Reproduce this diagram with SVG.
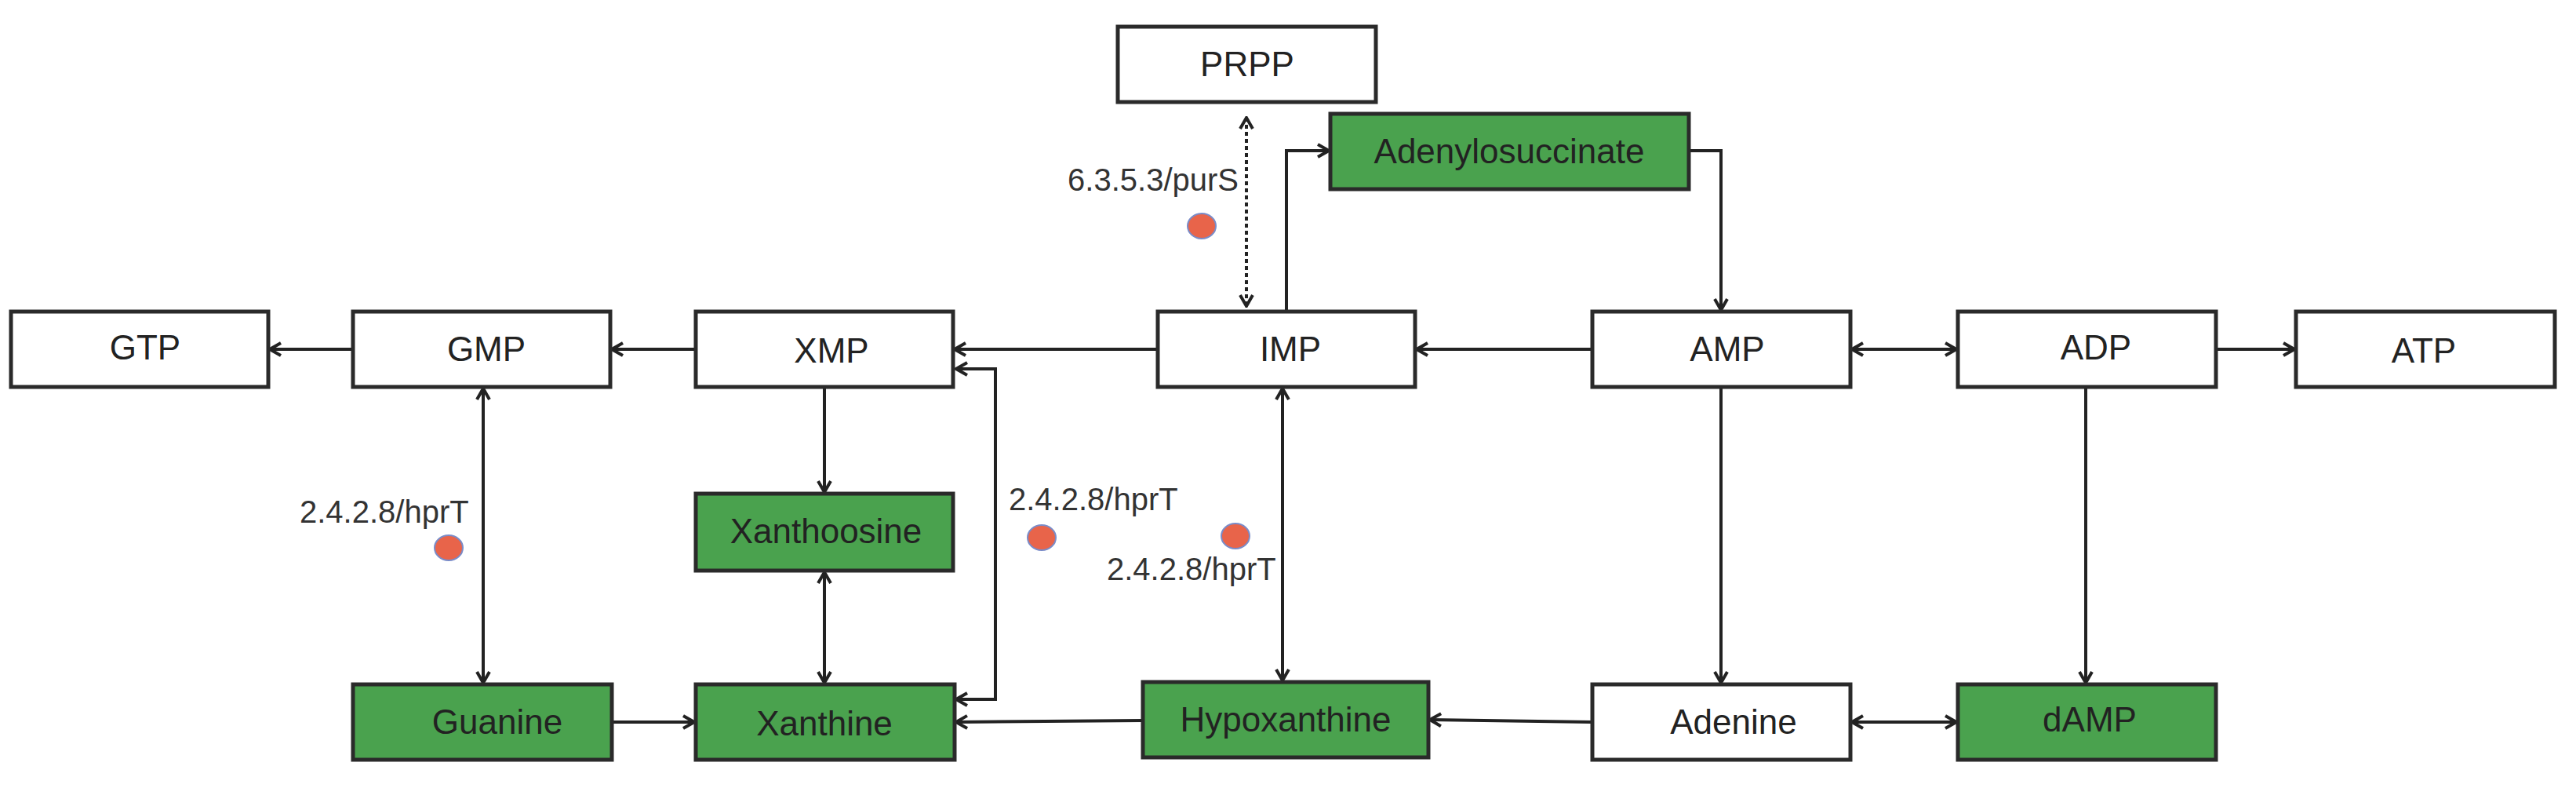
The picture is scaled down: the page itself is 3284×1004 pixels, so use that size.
<svg xmlns="http://www.w3.org/2000/svg" width="3284" height="1004" viewBox="0 0 3284 1004">
<style>
.n{fill:#fff;stroke:#2a2a2a;stroke-width:5}
.g{fill:#4aa24e;stroke:#2a2a2a;stroke-width:5}
.t{font-family:"Liberation Sans",Arial,sans-serif;font-size:44px;fill:#222;text-anchor:middle}
.l{font-family:"Liberation Sans",Arial,sans-serif;font-size:40px;fill:#333}
.c{fill:none;stroke:#222;stroke-width:4}
.d{stroke-dasharray:5 4}
.e{fill:#e8644a;stroke:#7a8cc8;stroke-width:2}
</style>
<defs>
<marker id="a" viewBox="0 0 20 20" refX="18" refY="10" markerWidth="20" markerHeight="20" markerUnits="userSpaceOnUse" orient="auto-start-reverse">
<path d="M4,2 L18,10 L4,18" fill="none" stroke="#222" stroke-width="4"/>
</marker>
</defs>
<g id="connectors">
<line class="c" x1="450" y1="445" x2="344" y2="445" marker-end="url(#a)"/>
<line class="c" x1="887" y1="445" x2="780" y2="445" marker-end="url(#a)"/>
<line class="c" x1="1476" y1="445" x2="1217" y2="445" marker-end="url(#a)"/>
<polyline class="c" points="1219,470 1269,470 1269,891 1219,891" marker-start="url(#a)" marker-end="url(#a)"/>
<line class="c" x1="616" y1="495" x2="616" y2="870" marker-start="url(#a)" marker-end="url(#a)"/>
<line class="c" x1="1051" y1="493" x2="1051" y2="627" marker-end="url(#a)"/>
<line class="c" x1="1051" y1="729" x2="1051" y2="870" marker-start="url(#a)" marker-end="url(#a)"/>
<line class="c" x1="780" y1="920" x2="885" y2="920" marker-end="url(#a)"/>
<line class="c" x1="1457" y1="918" x2="1219" y2="920" marker-end="url(#a)"/>
<line class="c" x1="2030" y1="920" x2="1823" y2="917" marker-end="url(#a)"/>
<line class="c" x1="2361" y1="920" x2="2494" y2="920" marker-start="url(#a)" marker-end="url(#a)"/>
<line class="c" x1="2030" y1="445" x2="1806" y2="445" marker-end="url(#a)"/>
<line class="c" x1="2361" y1="445" x2="2494" y2="445" marker-start="url(#a)" marker-end="url(#a)"/>
<line class="c" x1="2825" y1="445" x2="2925" y2="445" marker-end="url(#a)"/>
<polyline class="c" points="2153,192 2194,192 2194,395" marker-end="url(#a)"/>
<polyline class="c" points="1640,397 1640,192 1694,192" marker-end="url(#a)"/>
<line class="c d" x1="1589" y1="150" x2="1589" y2="390" marker-start="url(#a)" marker-end="url(#a)"/>
<line class="c" x1="1635" y1="495" x2="1635" y2="867" marker-start="url(#a)" marker-end="url(#a)"/>
<line class="c" x1="2194" y1="493" x2="2194" y2="870" marker-end="url(#a)"/>
<line class="c" x1="2659" y1="493" x2="2659" y2="870" marker-end="url(#a)"/>
</g>
<g id="PRPP"><rect class="n" x="1425" y="34" width="329" height="96"/><text class="t" x="1590" y="97">PRPP</text></g>
<g id="Adenylosuccinate"><rect class="g" x="1696" y="145" width="457" height="96"/><text class="t" x="1924" y="208">Adenylosuccinate</text></g>
<g id="GTP"><rect class="n" x="14" y="397" width="328" height="96"/><text class="t" x="185" y="458">GTP</text></g>
<g id="GMP"><rect class="n" x="450" y="397" width="328" height="96"/><text class="t" x="620" y="460">GMP</text></g>
<g id="XMP"><rect class="n" x="887" y="397" width="328" height="96"/><text class="t" x="1060" y="462">XMP</text></g>
<g id="IMP"><rect class="n" x="1476" y="397" width="328" height="96"/><text class="t" x="1645" y="460">IMP</text></g>
<g id="AMP"><rect class="n" x="2030" y="397" width="329" height="96"/><text class="t" x="2202" y="460">AMP</text></g>
<g id="ADP"><rect class="n" x="2496" y="397" width="329" height="96"/><text class="t" x="2672" y="458">ADP</text></g>
<g id="ATP"><rect class="n" x="2927" y="397" width="330" height="96"/><text class="t" x="3090" y="462">ATP</text></g>
<g id="Xanthoosine"><rect class="g" x="887" y="629" width="328" height="98"/><text class="t" x="1053" y="692">Xanthoosine</text></g>
<g id="Guanine"><rect class="g" x="450" y="872" width="330" height="96"/><text class="t" x="634" y="935">Guanine</text></g>
<g id="Xanthine"><rect class="g" x="887" y="872" width="330" height="96"/><text class="t" x="1051" y="937">Xanthine</text></g>
<g id="Hypoxanthine"><rect class="g" x="1457" y="869" width="364" height="96"/><text class="t" x="1639" y="932">Hypoxanthine</text></g>
<g id="Adenine"><rect class="n" x="2030" y="872" width="329" height="96"/><text class="t" x="2210" y="935">Adenine</text></g>
<g id="dAMP"><rect class="g" x="2496" y="872" width="329" height="96"/><text class="t" x="2664" y="932">dAMP</text></g>
<g id="labels">
<text class="l" x="1579" y="243" text-anchor="end">6.3.5.3/purS</text>
<ellipse class="e" cx="1532" cy="288" rx="18" ry="16"/>
<text class="l" x="382" y="666">2.4.2.8/hprT</text>
<ellipse class="e" cx="572" cy="698" rx="18" ry="16"/>
<text class="l" x="1286" y="650">2.4.2.8/hprT</text>
<ellipse class="e" cx="1328" cy="685" rx="18" ry="16"/>
<ellipse class="e" cx="1575" cy="683" rx="18" ry="16"/>
<text class="l" x="1411" y="739">2.4.2.8/hprT</text>
</g>
</svg>
